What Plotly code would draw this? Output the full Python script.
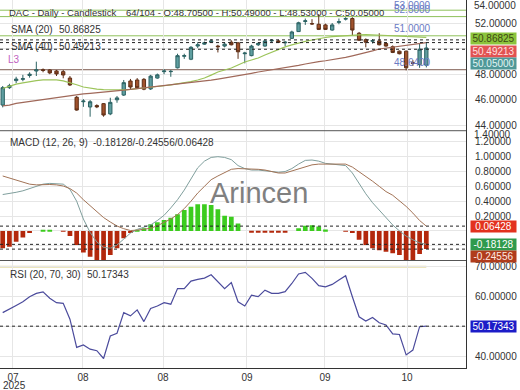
import plotly.graph_objects as go

# ---------------- data ----------------
idx = list(range(64))

open_ = [45.59, 46.95, 47.50, 47.60, 47.90, 48.25, 48.35, 48.33, 48.25, 48.20,
         47.70, 46.20, 45.85, 45.44, 45.55, 45.70, 44.90, 46.00, 46.37, 47.47,
         47.55, 47.60, 46.85, 47.70, 48.20, 48.20, 48.50, 49.40, 49.17, 50.20,
         50.35, 50.50, 50.20, 50.20, 50.50, 50.45, 49.60, 49.45, 50.30, 50.20,
         50.60, 50.60, 50.45, 50.80, 51.33, 52.12, 51.95, 51.90, 51.85, 51.45,
         52.05, 52.30, 52.35, 51.20, 50.70, 50.58, 50.60, 50.40, 50.15, 49.80,
         49.80, 48.90, 48.75, 48.705]
high = [47.08, 47.25, 47.80, 47.95, 48.15, 48.98, 48.45, 48.40, 48.33, 48.33,
        47.86, 46.30, 46.05, 45.98, 45.65, 45.75, 46.16, 46.30, 47.55, 47.63,
        47.70, 47.70, 47.95, 48.05, 48.40, 48.33, 49.60, 49.60, 50.20, 50.50,
        50.55, 50.75, 50.30, 50.50, 50.65, 50.50, 49.75, 50.30, 50.50, 50.75,
        50.75, 50.70, 50.60, 51.40, 52.10, 52.35, 52.30, 52.70, 51.95, 52.00,
        52.35, 52.45, 52.45, 51.30, 50.80, 50.75, 51.20, 50.50, 50.25, 49.85,
        49.85, 49.10, 50.40, 50.49]
low = [45.41, 46.85, 47.30, 47.45, 47.73, 47.86, 48.15, 48.00, 47.86, 47.68,
       47.08, 45.15, 45.45, 44.68, 45.35, 44.68, 44.80, 45.77, 46.30, 46.84,
       46.85, 46.75, 46.77, 47.65, 48.00, 47.80, 48.45, 49.20, 49.10, 50.05,
       50.30, 50.45, 49.70, 50.10, 50.25, 49.20, 48.85, 49.40, 50.20, 50.15,
       50.50, 50.45, 50.20, 50.75, 51.30, 51.85, 51.85, 51.45, 51.45, 51.40,
       51.90, 52.20, 51.05, 50.60, 50.10, 50.40, 50.25, 50.15, 49.65, 49.55,
       48.30, 48.65, 48.50, 48.53]
close = [46.95, 47.10, 47.62, 47.65, 48.00, 48.35, 48.30, 48.10, 48.02, 47.94,
         47.16, 45.20, 45.90, 45.85, 45.45, 44.81, 45.80, 46.15, 47.34, 47.00,
         46.94, 46.83, 47.85, 47.95, 48.25, 48.22, 49.45, 49.45, 50.10, 50.30,
         50.45, 50.60, 50.15, 50.35, 50.30, 49.75, 49.65, 50.20, 50.40, 50.60,
         50.65, 50.50, 50.50, 51.30, 52.02, 52.17, 51.93, 51.50, 51.50, 51.85,
         52.10, 52.35, 51.45, 50.65, 50.50, 50.62, 50.30, 50.20, 49.70, 49.60,
         48.50, 48.85, 49.95, 50.05]

sma20 = [46.88, 47.05, 47.23, 47.33, 47.43, 47.50, 47.55, 47.57, 47.55, 47.48,
         47.35, 47.18, 47.00, 46.90, 46.84, 46.80, 46.78, 46.77, 46.78, 46.81,
         46.86, 46.93, 46.99, 47.05, 47.10, 47.17, 47.25, 47.33, 47.42, 47.55,
         47.70, 47.93, 48.17, 48.33, 48.48, 48.72, 48.95, 49.11, 49.27, 49.50,
         49.73, 49.93, 50.13, 50.29, 50.44, 50.56, 50.67, 50.78, 50.87, 50.93,
         50.98, 51.02, 51.06, 51.08, 51.10, 51.08, 51.06, 51.04, 51.02, 50.98,
         50.95, 50.92, 50.89, 50.87]
sma40 = [45.52, 45.58, 45.72, 45.80, 45.88, 45.95, 46.03, 46.11, 46.19, 46.27,
         46.34, 46.42, 46.47, 46.51, 46.55, 46.59, 46.63, 46.68, 46.75, 46.81,
         46.87, 46.92, 46.97, 47.02, 47.08, 47.14, 47.21, 47.27, 47.33, 47.40,
         47.47, 47.54, 47.62, 47.70, 47.78, 47.88, 47.97, 48.07, 48.17, 48.25,
         48.33, 48.40, 48.48, 48.58, 48.69, 48.80, 48.91, 48.98, 49.05, 49.12,
         49.19, 49.31, 49.43, 49.55, 49.66, 49.82, 49.97, 50.05, 50.13, 50.19,
         50.25, 50.32, 50.40, 50.47]

macd = [0.49, 0.50, 0.52, 0.54, 0.57, 0.60, 0.63, 0.64, 0.64, 0.63,
        0.56, 0.40, 0.16, -0.02, -0.15, -0.22, -0.235, -0.19, -0.11, -0.03,
        0.02, 0.05, 0.08, 0.14, 0.21, 0.31, 0.42, 0.55, 0.71, 0.85,
        0.94, 0.99, 1.00, 0.99, 0.96, 0.88, 0.84, 0.82, 0.82, 0.81,
        0.80, 0.79, 0.80, 0.84, 0.90, 0.95, 0.955, 0.94, 0.91, 0.90,
        0.89, 0.88, 0.78, 0.64, 0.50, 0.38, 0.28, 0.18, 0.08, 0.00,
        -0.07, -0.12, -0.16, -0.181]
signal = [0.74, 0.71, 0.69, 0.66, 0.63, 0.62, 0.625, 0.625, 0.62, 0.605,
          0.57, 0.51, 0.42, 0.34, 0.25, 0.18, 0.12, 0.066, 0.03, 0.005,
          0.01, 0.025, 0.035, 0.07, 0.11, 0.16, 0.22, 0.30, 0.40, 0.51,
          0.60, 0.69, 0.74, 0.79, 0.83, 0.84, 0.84, 0.83, 0.83, 0.82,
          0.80, 0.78, 0.78, 0.81, 0.84, 0.87, 0.89, 0.90, 0.90, 0.90,
          0.90, 0.90, 0.86, 0.80, 0.73, 0.67, 0.60, 0.53, 0.48, 0.41,
          0.33, 0.24, 0.14, 0.064]
hist = [-0.235, -0.213, -0.145, -0.09, -0.03, 0.0, 0.015, 0.015, 0.0, -0.01,
        -0.07, -0.19, -0.29, -0.35, -0.40, -0.41, -0.325, -0.235, -0.10, -0.03,
        0.01, 0.035, 0.089, 0.116, 0.147, 0.178, 0.224, 0.28, 0.326, 0.358,
        0.358, 0.35, 0.29, 0.205, 0.19, 0.10, 0.0, -0.012, -0.012, -0.012,
        -0.012, -0.012, -0.012, 0.0, 0.035, 0.07, 0.075, 0.06, 0.02, 0.0,
        0.0, -0.005, -0.03, -0.12, -0.19, -0.235, -0.26, -0.28, -0.30, -0.325,
        -0.41, -0.41, -0.31, -0.2456]

rsi = [54.7, 55.8, 57.1, 58.3, 60.0, 61.1, 61.6, 59.5, 58.0, 57.8,
       52.5, 43.1, 43.9, 42.5, 42.0, 39.4, 46.9, 47.8, 54.7, 53.6,
       55.6, 51.7, 56.1, 56.9, 58.0, 57.5, 62.7, 62.7, 65.2, 65.8,
       66.2, 67.3, 65.0, 62.7, 64.7, 58.3, 56.9, 60.5, 60.0, 62.2,
       61.1, 61.1, 61.7, 64.4, 67.6, 68.1, 66.1, 63.7, 63.3, 64.1,
       65.6, 67.0, 60.0, 53.3, 51.9, 53.1, 51.3, 50.6, 47.6, 47.4,
       40.6, 42.2, 50.0, 50.17]

tick_pos = [1.53, 11.94, 23.84, 36.33, 47.93, 60.13]
tick_text = ["07", "08", "08", "09", "09", "10"]
year_text = "2025"

price_ticks = [44, 46, 48, 50, 52]
price_tick_text = ["44.00000", "46.00000", "48.00000", "", "52.00000"]
macd_ticks = [-0.2, 0, 0.2, 0.4, 0.6, 0.8, 1.0, 1.2]
macd_tick_text = ["", "", "0.20000", "0.40000", "0.60000", "0.80000", "1.00000", "1.20000"]
rsi_ticks = [40, 50, 60, 70]
rsi_tick_text = ["40.00000", "", "60.00000", "70.00000"]

price_levels = [53.0, 52.5, 51.0]
price_level_text = ["53.0000", "52.5000", "51.0000"]
support_level = 48.35
support_text = "48.6400"
price_dotted = [50.68, 50.47, 49.95]

last_sma20 = "50.86825"
last_sma40 = "50.49213"
last_close = "50.05000"
last_macd = "-0.18128"
last_hist = "-0.24556"
last_signal = "0.06428"
last_rsi = "50.17343"
header_left = "DAC - Daily - Candlestick"
header_right = "64/104 - O:48.70500 - H:50.49000 - L:48.53000 - C:50.05000"

# ---------------- figure ----------------
FONT = "Liberation Sans, Arial, sans-serif"
TXT = "#333333"
GRID = "#e6e6e6"

D1 = [0.6448, 1.0]
D2 = [0.2921, 0.6448]
D3 = [0.0, 0.2921]
XR = [-0.4015, 68.9]

fig = go.Figure()

fig.add_trace(go.Candlestick(
    x=idx, open=open_, high=high, low=low, close=close,
    xaxis="x", yaxis="y",
    increasing=dict(line=dict(color="#2c6263", width=1), fillcolor="#5f9ea0"),
    decreasing=dict(line=dict(color="#5e2f17", width=1), fillcolor="#a0522d"),
    whiskerwidth=0, showlegend=False, hoverinfo="skip"))
fig.add_trace(go.Scatter(x=idx, y=sma20, mode="lines", xaxis="x", yaxis="y",
                         line=dict(color="#9cc45a", width=1.2), showlegend=False, hoverinfo="skip"))
fig.add_trace(go.Scatter(x=idx, y=sma40, mode="lines", xaxis="x", yaxis="y",
                         line=dict(color="#a0695a", width=1.2), showlegend=False, hoverinfo="skip"))

fig.add_trace(go.Scatter(x=idx, y=macd, mode="lines", xaxis="x2", yaxis="y2",
                         line=dict(color="#7f9e9c", width=1), showlegend=False, hoverinfo="skip"))
fig.add_trace(go.Scatter(x=idx, y=signal, mode="lines", xaxis="x2", yaxis="y2",
                         line=dict(color="#a27356", width=1), showlegend=False, hoverinfo="skip"))
hist_colors = ["#3ccc1e" if v > 0 else "#b3280c" for v in hist]
fig.add_trace(go.Bar(x=idx, y=hist, xaxis="x2", yaxis="y2", width=0.7,
                     marker=dict(color=hist_colors, line=dict(width=0)),
                     showlegend=False, hoverinfo="skip"))

fig.add_trace(go.Scatter(x=idx, y=rsi, mode="lines", xaxis="x3", yaxis="y3",
                         line=dict(color="#4b4b9c", width=1.2), showlegend=False, hoverinfo="skip"))

xcommon = dict(range=XR, showgrid=True, gridcolor=GRID, gridwidth=1, zeroline=False,
               tickvals=tick_pos, fixedrange=True)
ycommon = dict(side="right", showgrid=True, gridcolor=GRID, zeroline=False, showline=True,
               linecolor="#333333", linewidth=1, ticks="",
               tickfont=dict(family=FONT, size=10, color=TXT), ticklabelstandoff=6,
               fixedrange=True)

fig.update_layout(
    width=520, height=390,
    margin=dict(l=0, r=54, t=0, b=22),
    paper_bgcolor="white", plot_bgcolor="white",
    font=dict(family=FONT, size=10, color=TXT),
    xaxis=dict(anchor="y", showticklabels=False, rangeslider=dict(visible=False),
               showline=False, **xcommon),
    xaxis2=dict(anchor="y2", showticklabels=False, matches="x", showline=False, **xcommon),
    xaxis3=dict(anchor="y3", showticklabels=True, ticktext=tick_text, matches="x",
                tickfont=dict(family=FONT, size=10, color=TXT), ticklabelstandoff=0,
                showline=True, linecolor="#333333", linewidth=1, ticks="", **xcommon),
    yaxis=dict(domain=D1, anchor="x", range=[43.586, 53.797],
               tickvals=price_ticks, ticktext=price_tick_text, **ycommon),
    yaxis2=dict(domain=D2, anchor="x2", range=[-0.399, 1.350],
                tickvals=macd_ticks, ticktext=macd_tick_text, **ycommon),
    yaxis3=dict(domain=D3, anchor="x3", range=[36.23, 72.07],
                tickvals=rsi_ticks, ticktext=rsi_tick_text, **ycommon),
)

shapes = []
# panel separators
for yy in (D1[0], D2[0]):
    shapes.append(dict(type="line", xref="paper", yref="paper", x0=0, x1=1, y0=yy, y1=yy,
                       line=dict(color="#555555", width=1)))
# price level lines
for lv in price_levels:
    shapes.append(dict(type="line", xref="x domain", yref="y", x0=0, x1=1, y0=lv, y1=lv,
                       line=dict(color="#8fc15b", width=1), layer="below"))
shapes.append(dict(type="line", xref="x domain", yref="y", x0=0, x1=1, y0=support_level,
                   y1=support_level, line=dict(color="#7d5a4f", width=1), layer="below"))
for lv in price_dotted:
    shapes.append(dict(type="line", xref="x domain", yref="y", x0=0, x1=1, y0=lv, y1=lv,
                       line=dict(color="#222222", width=1, dash="dot")))
for lv in (float(last_signal), float(last_macd), float(last_hist)):
    shapes.append(dict(type="line", xref="x2 domain", yref="y2", x0=0, x1=1, y0=lv, y1=lv,
                       line=dict(color="#222222", width=1, dash="dot")))
shapes.append(dict(type="line", xref="x3", yref="y3", x0=XR[0], x1=idx[-1], y0=70, y1=70,
                   line=dict(color="#e6dca6", width=2), layer="below"))
shapes.append(dict(type="line", xref="x3 domain", yref="y3", x0=0, x1=1, y0=float(last_rsi),
                   y1=float(last_rsi), line=dict(color="#222222", width=1, dash="dot")))
fig.update_layout(shapes=shapes)

ann = []
def text(t, x, y, xref="paper", yref="paper", xanchor="left", yanchor="middle",
         xshift=0, yshift=0, size=10, color=TXT, **kw):
    ann.append(dict(text=t, x=x, y=y, xref=xref, yref=yref, xanchor=xanchor,
                    yanchor=yanchor, xshift=xshift, yshift=yshift, showarrow=False,
                    font=dict(family=FONT, size=size, color=color), **kw))

# header / legends (pixel offsets from the top-left of the plot area)
text(header_left, 0, 1, xshift=7, yshift=-12.5, size=9.5)
text(header_right, 0, 1, xshift=124, yshift=-12.5, size=9.5)
text("SMA (20)", 0, 1, xshift=9, yshift=-29.5)
text(last_sma20, 0, 1, xshift=57, yshift=-29.5)
text("SMA (40)", 0, 1, xshift=9, yshift=-46)
text(last_sma40, 0, 1, xshift=57, yshift=-46)
text("L3", 0, 1, xshift=6, yshift=-59, color="#c060c0")
text("MACD (12, 26, 9)", 0, D2[1], xshift=8, yshift=-12)
text(last_macd + "/" + last_hist + "/" + last_signal, 0, D2[1], xshift=91, yshift=-12)
text("RSI (20, 70, 30)", 0, D3[1], xshift=8, yshift=-13.5)
text(last_rsi, 0, D3[1], xshift=85, yshift=-13.5)

# level labels
for lv, t in zip(price_levels, price_level_text):
    text(t, 0.842, lv, yref="y", yanchor="bottom", color="#6a7bc4",
         yshift=(-3 if lv == price_levels[0] else 0))
text(support_text, 0.842, support_level, yref="y", yanchor="bottom", color="#6a7bc4")

# clamped axis labels
text("54.00000", 1, 1, yanchor="middle", xshift=6, yshift=-5)
text("1.40000", 1, D2[1], yanchor="middle", xshift=6, yshift=-4)

# watermark
text("Arincen", 0.556, 0.52, xref="x2 domain", yref="y2 domain", xanchor="center",
     size=29, color="#808080")

# year under first tick
text(year_text, tick_pos[0], 0, xref="x3", yref="paper", xanchor="center", xshift=2,
     yshift=-17.5)

# value boxes on the right axis
def box(t, y, yref, bg, fg, yshift=0):
    ann.append(dict(text=t, x=1, xref="paper", xanchor="left", xshift=4, y=y, yref=yref,
                    yanchor="middle", yshift=yshift, showarrow=False, bgcolor=bg,
                    width=45, height=11, borderpad=0, align="center",
                    font=dict(family=FONT, size=10, color=fg)))

box(last_sma20, float(last_sma20), "y", "#8cc43c", "#3c4a12", -1.5)
box(last_sma40, float(last_sma40), "y", "#e25252", "#ffe0e0", -9)
box(last_close, float(last_close), "y", "#4f9898", "#e0f4f4", -16)
box(last_signal, float(last_signal), "y2", "#e3321e", "#ffffff", 0)
box(last_macd, float(last_macd), "y2", "#2f9a4c", "#ffffff", 0)
box(last_hist, float(last_hist), "y2", "#b03c1c", "#ffe8e0", -7.5)
box(last_rsi, float(last_rsi), "y3", "#1c1cc8", "#ffffff", 0)

fig.update_layout(annotations=ann)

fig.write_html("out.html", config=dict(displayModeBar=False))
